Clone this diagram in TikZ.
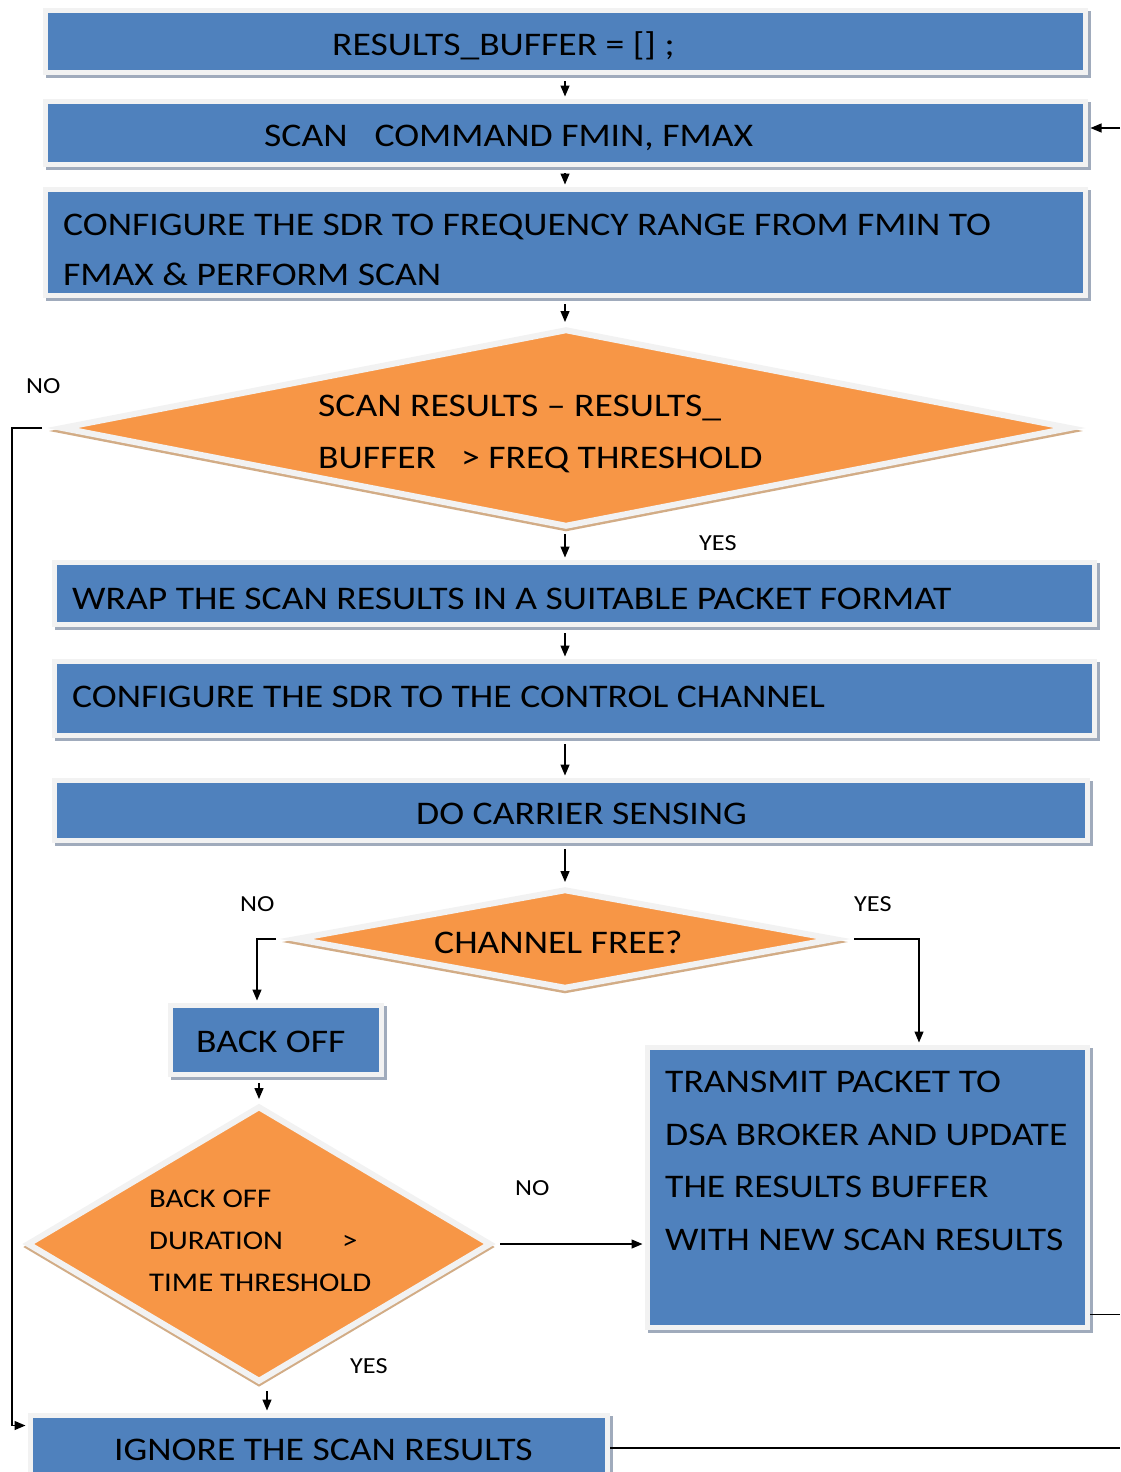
\documentclass[tikz,border=0pt]{standalone}
\usepackage{fontspec}
\setmainfont{Carlito}[FakeStretch=1.14]
\usetikzlibrary{shapes.geometric,arrows.meta,calc}

\definecolor{boxblue}{HTML}{4F81BD}
\definecolor{testfill}{HTML}{F79646}
\definecolor{framegray}{HTML}{F2F2F2}
\definecolor{boxshadow}{HTML}{A0ABBC}
\definecolor{tanshadow}{HTML}{D2AC86}

\tikzset{
  procbox/.style={rectangle, fill=boxblue, draw=framegray, line width=5pt, inner sep=0pt,
    preaction={draw=boxshadow, line width=5pt, transform canvas={xshift=3pt,yshift=-3pt}}},
  decision/.style={diamond, fill=testfill, draw=framegray, line width=6pt, inner sep=0pt,
    preaction={draw=tanshadow, line width=5pt, transform canvas={yshift=-3pt}}},
  txt/.style={font=\fontsize{33}{40}\selectfont, anchor=base west, inner sep=0pt},
  smalltxt/.style={font=\fontsize{27}{32}\selectfont, anchor=base west, inner sep=0pt},
  lbl/.style={font=\fontsize{23}{28}\selectfont, anchor=base west, inner sep=0pt},
  flow/.style={line width=1.3pt, -{Triangle[length=11pt,width=9pt]}},
  wire/.style={line width=1.3pt}
}

\begin{document}
\begin{tikzpicture}[x=1pt,y=-1pt]
\useasboundingbox (0,0) rectangle (1120,1472);
\clip (0,0) rectangle (1120,1472);

% process boxes
\node[procbox, minimum width=1040pt, minimum height=62pt]  (b1) at (565.5,41.5) {};
\node[procbox, minimum width=1040pt, minimum height=63pt]  (b2) at (565.5,133) {};
\node[procbox, minimum width=1040pt, minimum height=106pt] (b3) at (565.5,242.5) {};
\node[procbox, minimum width=1040pt, minimum height=62pt]  (b4) at (574.5,593.5) {};
\node[procbox, minimum width=1040pt, minimum height=74pt]  (b5) at (574.5,698.5) {};
\node[procbox, minimum width=1033pt, minimum height=60pt]  (b6) at (571,810.5) {};
\node[procbox, minimum width=211pt,  minimum height=69pt]  (back) at (276,1040) {};
\node[procbox, minimum width=440pt,  minimum height=280pt] (tx) at (867.5,1187.5) {};
\node[procbox, minimum width=577pt,  minimum height=65pt]  (ign) at (319,1448) {};

% decisions
\node[decision, minimum width=1010pt, minimum height=198pt] (d1) at (566,428) {};
\node[decision, minimum width=540pt,  minimum height=100pt] (d2) at (565,939) {};
\node[decision, minimum width=464pt,  minimum height=276pt] (d3) at (259,1244) {};

% texts
\node[txt] (t1) at (332,56) {RESULTS\_BUFFER = [] ;};
\node[txt] (t2) at (264,146) {SCAN\hspace{27pt}COMMAND FMIN, FMAX};
\node[txt] (t3a) at (63,235) {CONFIGURE THE SDR TO FREQUENCY RANGE FROM FMIN TO};
\node[txt] (t3b) at (63,285) {FMAX \& PERFORM SCAN};
\node[txt] (q1a) at (318,416) {SCAN RESULTS – RESULTS\_};
\node[txt] (q1b) at (318,468) {BUFFER};
\node[txt] (q1c) at (461,468) {> FREQ THRESHOLD};
\node[txt] (t4) at (72,609) {WRAP THE SCAN RESULTS IN A SUITABLE PACKET FORMAT};
\node[txt] (t5) at (72,707) {CONFIGURE THE SDR TO THE CONTROL CHANNEL};
\node[txt] (t6) at (416,824) {DO CARRIER SENSING};
\node[txt] (q2) at (434,953) {CHANNEL FREE?};
\node[txt] (tb) at (196,1052) {BACK OFF};
\node[smalltxt] (q3a) at (149,1207) {BACK OFF};
\node[smalltxt] (q3b) at (149,1249) {DURATION};
\node[smalltxt] (q3c) at (342,1249) {>};
\node[smalltxt] (q3d) at (149,1291) {TIME THRESHOLD};
\node[txt] (tx1) at (665,1092) {TRANSMIT PACKET TO};
\node[txt] (tx2) at (665,1145) {DSA BROKER AND UPDATE};
\node[txt] (tx3) at (665,1197) {THE RESULTS BUFFER};
\node[txt] (tx4) at (665,1250) {WITH NEW SCAN RESULTS};
\node[txt] (ti) at (114,1460) {IGNORE THE SCAN RESULTS};

% branch labels
\node[lbl] (no1) at (26,393) {NO};
\node[lbl] (yes1) at (699,550) {YES};
\node[lbl] (no2) at (240,911) {NO};
\node[lbl] (yes2) at (854,911) {YES};
\node[lbl] (no3) at (515,1195) {NO};
\node[lbl] (yes3) at (350,1373) {YES};

% guide coordinates for connector routing
\coordinate (ax) at (565,0);
\coordinate (lrail) at (12,0);
\coordinate (rrail) at (1120,0);
\coordinate (nx) at (257,0);
\coordinate (yx) at (919,0);
\coordinate (yx3) at (267,0);

% main spine
\draw[flow] ($(b1.south -| ax)+(0,6)$) -- ($(b2.north -| ax)+(0,-2.5)$);
\draw[flow] ($(b2.south -| ax)+(0,6)$) -- ($(b3.north -| ax)+(0,-2.5)$);
\draw[flow] ($(b3.south -| ax)+(0,6)$) -- ($(d1.north -| ax)+(0,-4)$);
\draw[flow] ($(d1.south -| ax)+(0,4)$) -- ($(b4.north -| ax)+(0,-2.5)$);
\draw[flow] ($(b4.south -| ax)+(0,6)$) -- ($(b5.north -| ax)+(0,-2.5)$);
\draw[flow] ($(b5.south -| ax)+(0,6)$) -- ($(b6.north -| ax)+(0,-2.5)$);
\draw[flow] ($(b6.south -| ax)+(0,6)$) -- ($(d2.north -| ax)+(0,-4)$);

% first test: NO path to ignore box
\coordinate (ignin) at ($(ign.north west)+(-2.5,12.5)$);
\draw[flow] ($(d1.west)+(-16,0)$) -- ($(d1.west -| lrail)$) -- (ignin -| lrail) -- (ignin);

% channel test branches
\draw[flow] ($(d2.west)+(-16,0)$) -| ($(back.north -| nx)+(0,-2.5)$);
\draw[flow] ($(d2.east)+(16,0)$) -| ($(tx.north -| yx)+(0,-2.5)$);

% back off and duration test
\draw[flow] ($(back.south -| d3.north)+(0,6)$) -- ($(d3.north)+(0,-4)$);
\draw[flow] ($(d3.east)+(6,0)$) -- ($(d3.east -| tx.west)+(-2.5,0)$);
\draw[flow] ($(d3.south -| yx3)+(0,6)$) -- ($(ign.north -| yx3)+(0,-2.5)$);

% loop back to the scan command
\coordinate (scanin) at ($(b2.east)+(2.5,-5)$);
\draw[flow] (scanin -| rrail) -- (scanin);
\coordinate (txout) at ($(tx.south east)+(0,-15.5)$);
\draw[wire] (txout) -- (txout -| rrail);
\draw[wire] (ign.east) -- (ign.east -| rrail);
\end{tikzpicture}
\end{document}
